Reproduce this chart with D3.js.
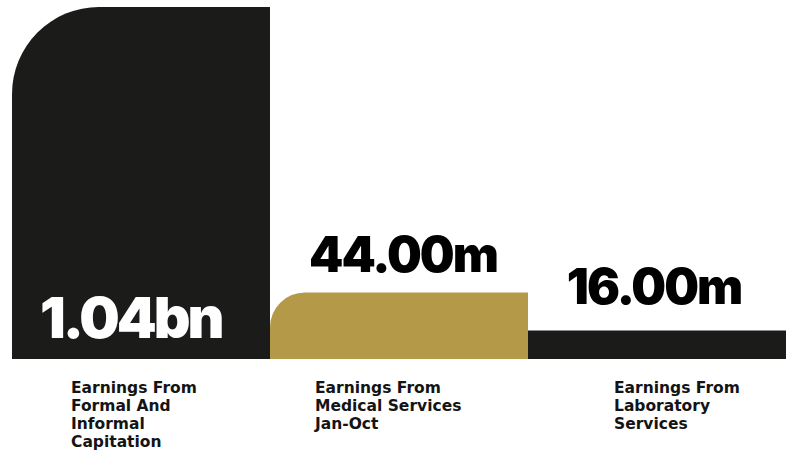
<!DOCTYPE html>
<html>
<head>
<meta charset="utf-8">
<script src="https://cdn.jsdelivr.net/npm/d3@7"></script>
<style>
  html, body { margin: 0; padding: 0; background: #ffffff; }
  svg { display: block; }
  .value { font-family: Inter, "DejaVu Sans", sans-serif; font-weight: 900; }
  .cat { font-family: "DejaVu Sans", sans-serif; font-weight: 700; font-size: 15.5px; fill: #141414; }
</style>
</head>
<body>
<svg id="chart" width="793" height="453"></svg>
<script>
// Earnings by source (values in millions)
const categories = [
  ["Earnings From", "Formal And", "Informal", "Capitation"],
  ["Earnings From", "Medical Services", "Jan-Oct"],
  ["Earnings From", "Laboratory", "Services"]
];
const valuesMillions = [1040, 44, 16];
const valueLabels = ["1.04bn", "44.00m", "16.00m"];

// Layout and styling
const W = 793, H = 453;
const plot = { left: 12, right: 786, top: 7, bottom: 359 };
const barColors = ["#1b1c19", "#b49a48", "#1b1c19"];
const cornerRadii = [87, 35, 0];
const catLabelX = [71, 315, 614];

const svg = d3.select("#chart");

const x = d3.scaleBand()
  .domain(d3.range(valuesMillions.length))
  .range([plot.left, plot.right])
  .padding(0);

// Symmetric-log scale keeps the small earnings visible next to the large one
const y = d3.scaleSymlog()
  .constant(60)
  .domain([0, d3.max(valuesMillions)])
  .range([plot.bottom, plot.top]);

function topLeftRounded(x0, y0, w, h, r) {
  r = Math.min(r, w, h);
  return `M${x0},${y0 + h}` +
    `V${y0 + r}` +
    (r > 0 ? `A${r},${r} 0 0 1 ${x0 + r},${y0}` : "") +
    `H${x0 + w}` +
    `V${y0 + h}Z`;
}

svg.selectAll("path.bar")
  .data(valuesMillions)
  .join("path")
  .attr("class", "bar")
  .attr("fill", (d, i) => barColors[i])
  .attr("d", (d, i) => topLeftRounded(x(i), y(d), x.bandwidth(), plot.bottom - y(d), cornerRadii[i]));

// Value labels: the first sits inside its bar, the others above theirs
svg.selectAll("text.value")
  .data(valuesMillions)
  .join("text")
  .attr("class", "value")
  .text((d, i) => valueLabels[i])
  .attr("fill", (d, i) => i === 0 ? "#ffffff" : "#000000")
  .style("font-size", (d, i) => i === 0 ? "57px" : "49px")
  .style("letter-spacing", (d, i) => i === 0 ? "-3px" : "-2px")
  .attr("text-anchor", (d, i) => i === 0 ? "start" : "middle")
  .attr("x", (d, i) => i === 0 ? x(i) + 28 : x(i) + x.bandwidth() / 2 + (i === 1 ? 4 : -3))
  .attr("y", (d, i) => i === 0 ? plot.bottom - 21 : y(d) - (i === 1 ? 20 : 26));

// Category labels below the bars
svg.selectAll("text.cat")
  .data(categories)
  .join("text")
  .attr("class", "cat")
  .attr("x", (d, i) => catLabelX[i])
  .attr("y", 393)
  .selectAll("tspan")
  .data(d => d)
  .join("tspan")
  .attr("x", function() { return this.parentNode.getAttribute("x"); })
  .attr("dy", (d, j) => j === 0 ? 0 : 18)
  .text(d => d);
</script>
</body>
</html>
